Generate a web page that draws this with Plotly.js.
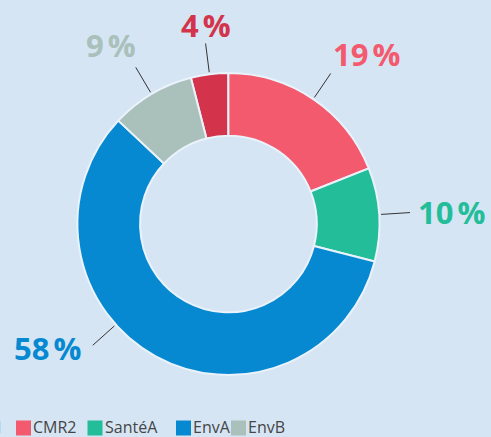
<!DOCTYPE html>
<html><head><meta charset="utf-8">
<script src="https://cdn.plot.ly/plotly-3.0.1.min.js"></script>
<style>html,body{margin:0;padding:0;background:#D5E5F4;overflow:hidden}</style>
</head><body><div id="chart" style="width:491px;height:437px"></div>
<script>
// ---- data ----
const categories = ['CMR1', 'CMR2', 'SantéA', 'EnvA', 'EnvB'];
const shares = [4, 19, 10, 58, 9];
const sliceColors = ['#D3344B', '#F35A6E', '#23BD9A', '#0689D1', '#A9C0BB'];

// ---- layout constants ----
const W = 491, H = 437;
const cx = 228.4, cy = 224, R = 151, HOLE = 0.585;
const BG = '#D5E5F4';
const FONT = '"Open Sans", "Noto Sans", sans-serif';
const lineR0 = 153, lineR1 = 182, textR = 187;
const labelAngleNudge = [0, 0, 0, 19.4, 0];
const labelShift = [[1.5, -2.5], [-3, -4], [1, 0], [-6, -1], [5, -7]];
const legendItemX = [-57, 16, 87.5, 176, 231];
const legendSwatchY = [420.5, 435.5];
const legendTextY = 427.3;

const px = x => x / W;
const py = y => 1 - y / H;

const total = shares.reduce((a, b) => a + b, 0);
const rotation = -shares[0] / total * 360;

const trace = {
  type: 'pie',
  labels: categories,
  values: shares,
  sort: false,
  direction: 'clockwise',
  rotation: rotation,
  hole: HOLE,
  textinfo: 'none',
  hoverinfo: 'label+percent',
  showlegend: false,
  marker: {colors: sliceColors, line: {color: '#EAF2FB', width: 2}},
  domain: {x: [px(cx - R), px(cx + R)], y: [py(cy + R), py(cy - R)]}
};

const shapes = [];
const annotations = [];
let cum = 0;
shares.forEach((v, i) => {
  const mid = (rotation + (cum + v / 2) / total * 360 + labelAngleNudge[i]) * Math.PI / 180;
  cum += v;
  const dx = Math.sin(mid), dy = -Math.cos(mid);
  shapes.push({
    type: 'line', xref: 'paper', yref: 'paper',
    x0: px(cx + lineR0 * dx), y0: py(cy + lineR0 * dy),
    x1: px(cx + lineR1 * dx), y1: py(cy + lineR1 * dy),
    line: {color: '#333333', width: 1}
  });
  const sy = dy < -0.75 ? -1 : (dy > 0.75 ? 1 : 0);
  const tx = cx + textR * dx + labelShift[i][0];
  const ty = cy + textR * dy + sy * 11 + labelShift[i][1];
  annotations.push({
    xref: 'paper', yref: 'paper', showarrow: false,
    x: px(tx), y: py(ty),
    xanchor: dx > 0.3 ? 'left' : (dx < -0.3 ? 'right' : 'center'),
    yanchor: 'middle',
    text: '<b>' + v + '\u202F%</b>',
    font: {family: FONT, size: 31, color: sliceColors[i]}
  });
});

// legend built from the categories and colours
categories.forEach((c, i) => {
  const x0 = legendItemX[i];
  shapes.push({
    type: 'rect', xref: 'paper', yref: 'paper',
    x0: px(x0), x1: px(x0 + 15), y0: py(legendSwatchY[1]), y1: py(legendSwatchY[0]),
    fillcolor: sliceColors[i], line: {width: 0}
  });
  annotations.push({
    xref: 'paper', yref: 'paper', showarrow: false,
    x: px(x0 + 16), y: py(legendTextY),
    xanchor: 'left', yanchor: 'middle', borderpad: 0,
    text: c,
    font: {family: FONT, size: 16, color: '#454545'}
  });
});

const layout = {
  width: W, height: H,
  margin: {l: 0, r: 0, t: 0, b: 0},
  paper_bgcolor: BG, plot_bgcolor: BG,
  showlegend: false,
  shapes: shapes,
  annotations: annotations,
  font: {family: FONT}
};

Plotly.newPlot('chart', [trace], layout, {displayModeBar: false, staticPlot: true});
</script>
</body></html>
